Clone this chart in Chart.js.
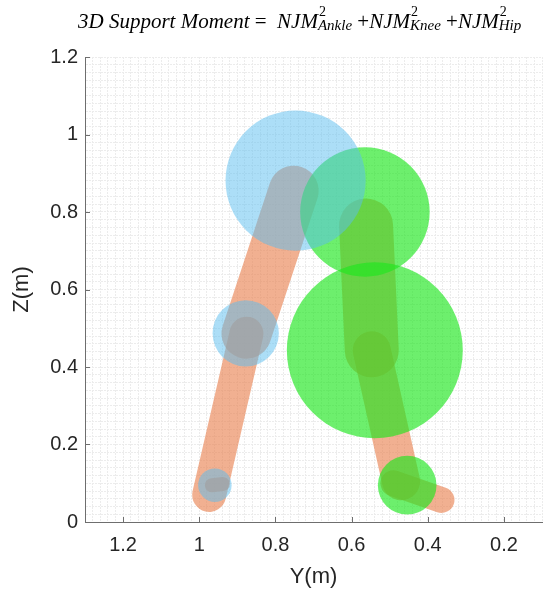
<!DOCTYPE html>
<html>
<head>
<title>3D Support Moment</title>
<script src="https://cdn.jsdelivr.net/npm/chart.js@4/dist/chart.umd.min.js"></script>
<style>
body { margin:0; background:#fff; }
#wrap { position:relative; width:553px; height:592px; }
#title { position:absolute; top:9px; left:78px; white-space:nowrap;
  font-family:"Liberation Serif", serif; font-size:21px; line-height:24px; color:#000; }
.ss { display:inline-block; position:relative; font-size:15px; line-height:15px; }
.ss .sb { position:relative; top:2px; }
.ss .sp { position:absolute; left:1px; top:-12px; font-size:14px; }
</style>
</head>
<body>
<div id="wrap">
<canvas id="legs"></canvas>
<div id="title"><i>3D Support Moment</i> =&nbsp; <i>NJM</i><span class="ss"><span class="sp">2</span><i class="sb">Ankle</i></span> +<i>NJM</i><span class="ss"><span class="sp">2</span><i class="sb">Knee</i></span> +<i>NJM</i><span class="ss"><span class="sp">2</span><i class="sb">Hip</i></span></div>
</div>

<script>
// joint moments (circle centre Y, Z and radius, all in metres)
var blueY  = [0.747, 0.878, 0.959];
var blueZ  = [0.881, 0.487, 0.095];
var blueR  = [0.184, 0.087, 0.044];
var greenY = [0.565, 0.539, 0.454];
var greenZ = [0.800, 0.443, 0.095];
var greenR = [0.170, 0.231, 0.077];

// limb segments (hip -> knee -> ankle, then foot)
var leftLegY   = [0.752, 0.876, 0.974];
var leftLegZ   = [0.855, 0.486, 0.070];
var leftFootY  = [0.967, 0.938];
var leftFootZ  = [0.095, 0.098];
var rightLegY  = [0.562, 0.547, 0.470];
var rightLegZ  = [0.765, 0.443, 0.105];
var rightFootY = [0.490, 0.364];
var rightFootZ = [0.100, 0.057];

var majorTicks = [0, 0.2, 0.4, 0.6, 0.8, 1, 1.2];

var ORANGE = 'rgba(232,128,78,0.62)';
var BLUE   = 'rgba(90,190,240,0.5)';
var GREEN  = 'rgba(30,230,30,0.65)';

function pxPerUnit(chart){
	var s = chart.scales.x;
	return Math.abs(s.getPixelForValue(1) - s.getPixelForValue(0));
}
function isMajor(v){
	return majorTicks.some(function(m){ return Math.abs(m - v) < 1e-6; });
}
function fmt(v){ return String(Math.round(v * 10) / 10); }

// circles: points whose radius follows the x scale (so they stay in metres)
function joints(ys, zs, rs, color){
	return {
		type: 'line', order: 1, showLine: false,
		data: ys.map(function(y, i){ return {x: y, y: zs[i]}; }),
		pointBackgroundColor: color, pointBorderWidth: 0,
		pointRadius: function(ctx){ return rs[ctx.dataIndex] * pxPerUnit(ctx.chart); },
		pointHoverRadius: 0
	};
}
function segments(ys, zs, widths){
	var out = [];
	for (var i = 0; i < ys.length - 1; i++) {
		out.push({
			type: 'line', order: 2,
			data: [{x: ys[i], y: zs[i]}, {x: ys[i+1], y: zs[i+1]}],
			borderColor: ORANGE, borderWidth: widths[i],
			borderCapStyle: 'round', pointRadius: 0, tension: 0, fill: false
		});
	}
	return out;
}

var datasets = [].concat(
	segments(leftLegY, leftLegZ, [50, 34]),
	segments(leftFootY, leftFootZ, [14]),
	segments(rightLegY, rightLegZ, [54, 38]),
	segments(rightFootY, rightFootZ, [26]),
	[joints(blueY, blueZ, blueR, BLUE), joints(greenY, greenZ, greenR, GREEN)]
);

// short inward tick marks like the original axes
var innerTicks = {
	id: 'innerTicks',
	afterDraw: function(chart){
		var c = chart.ctx, a = chart.chartArea, x = chart.scales.x, y = chart.scales.y;
		c.save();
		c.strokeStyle = '#6e6e6e';
		c.lineWidth = 1;
		c.beginPath();
		majorTicks.forEach(function(v){
			var px = Math.round(x.getPixelForValue(v)) + 0.5;
			c.moveTo(px, a.bottom); c.lineTo(px, a.bottom - 5);
			var py = Math.round(y.getPixelForValue(v)) + 0.5;
			c.moveTo(a.left, py); c.lineTo(a.left + 5, py);
		});
		c.stroke();
		c.restore();
	}
};

var tickFont = {family: 'Liberation Sans', size: 20};
var titleFont = {family: 'Liberation Sans', size: 22};
var gridOpts = {color: '#ececec', drawTicks: false};
var borderOpts = {color: '#6e6e6e', dash: [2, 1]};

var chart = new Chart(document.getElementById('legs'), {
	data: { datasets: datasets },
	plugins: [innerTicks],
	options: {
		responsive: true, maintainAspectRatio: false, animation: false, events: [],
		layout: { padding: {top: 57, right: 1, bottom: 0, left: 0} },
		plugins: { legend: {display: false}, tooltip: {enabled: false} },
		scales: {
			x: {
				type: 'linear', reverse: true, min: 0.1, max: 1.3,
				afterFit: function(s){ s.height = 70; },
				grid: gridOpts, border: borderOpts,
				ticks: {stepSize: 0.02, autoSkip: false, maxRotation: 0, padding: 11,
					font: tickFont, color: '#262626',
					callback: function(v){ return isMajor(v) ? fmt(v) : ''; }},
				title: {display: true, text: 'Y(m)', font: titleFont, color: '#262626', padding: {top: 0, bottom: 2}}
			},
			y: {
				type: 'linear', min: 0, max: 1.2,
				afterFit: function(s){ s.width = 85; },
				grid: gridOpts, border: borderOpts,
				ticks: {stepSize: 0.02, autoSkip: false, padding: 7,
					font: tickFont, color: '#262626',
					callback: function(v){ return isMajor(v) ? fmt(v) : ''; }},
				title: {display: true, text: 'Z(m)', font: titleFont, color: '#262626', padding: {top: 9, bottom: 0}}
			}
		}
	}
});
</script>
</body>
</html>
